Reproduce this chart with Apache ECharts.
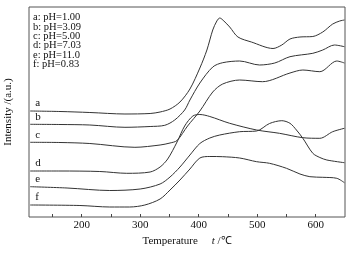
<!DOCTYPE html>
<html>
<head>
<meta charset="utf-8">
<script src="https://cdn.jsdelivr.net/npm/echarts@6/dist/echarts.min.js"></script>
<style>html,body{margin:0;padding:0;background:#fff}#main{width:356px;height:256px}</style>
</head>
<body>
<div id="main"></div>
<script>
// curves: [temperature, intensity (a.u.)]
var curveA = [[112,106],[163,105.5],[214,104.5],[274,103],[317,103.5],[334,105],[351,108],[368,115],[385,128],[402,149],[414,167],[424,187],[431,196],[436,199],[443,196],[453,190],[467,180],[490,175],[527,168.5],[542,172],[556,178],[573,180],[595,180.5],[612,185],[629,193],[641,196],[649,197]];
var curveB = [[112,92.7],[163,92.5],[214,92],[274,89.7],[317,90.5],[342,91.7],[359,97],[376,107],[385,117],[402,134],[424,150],[441,154.3],[470,156],[504,152],[530,154],[556,160.3],[595,163.7],[612,167],[632,172],[649,170.3]];
var curveC = [[112,74.7],[163,74.5],[214,73.5],[291,69.7],[334,72],[351,74],[363,76.5],[381,91],[402,106],[424,125],[441,133],[470,137],[509,135.3],[556,144],[578,147],[607,145.3],[636,156],[649,154]];
var curveD = [[112,46],[163,46],[231,45.5],[277,43.7],[317,45],[334,50],[347,58],[363,75],[376,91],[390,101],[402,102.5],[419,100.5],[453,93.7],[499,87],[538,83.7],[578,79.3],[607,78.7],[629,85.3],[649,88.7]];
var curveE = [[112,30.3],[175,29],[248,26.5],[300,28],[334,33],[351,40],[368,50],[385,62],[402,73.5],[419,79],[436,82],[470,85.3],[499,86],[521,93.5],[542,96.3],[556,93.7],[567,87],[578,78.7],[595,63.7],[607,59.5],[619,57],[649,54.3]];
var curveF = [[112,12],[197,11.5],[248,10],[282,10],[308,12],[334,18],[351,27],[368,37],[385,48],[402,59],[419,60.5],[441,60.3],[470,59],[499,55.3],[521,53.7],[550,48.7],[573,43],[590,40.3],[612,39.7],[636,38.7],[649,34.3]];

var curves = [curveA, curveB, curveC, curveD, curveE, curveF];
var letters = ['a', 'b', 'c', 'd', 'e', 'f'];
var legendLines = ['a: pH=1.00', 'b: pH=3.09', 'c: pH=5.00', 'd: pH=7.03', 'e: pH=11.0', 'f: pH=0.83'];
var tickValues = [150, 200, 250, 300, 350, 400, 450, 500, 550, 600];
var labelValues = [200, 300, 400, 500, 600];

var serif = '"Liberation Serif", "Times New Roman", serif';
var chart = echarts.init(document.getElementById('main'));

var series = [];
for (var i = 0; i < curves.length; i++) {
  series.push({
    type: 'line',
    data: curves[i],
    smooth: 0.3,
    symbol: 'none',
    lineStyle: {color: '#333', width: 1}
  });
}

chart.setOption({
  animation: false,
  grid: {left: 29, right: 11, top: 7, bottom: 39, show: true, borderColor: '#555', borderWidth: 1, outerBoundsMode: 'none'},
  xAxis: {
    type: 'value', min: 110, max: 650,
    axisLine: {show: false},
    splitLine: {show: false},
    axisTick: {show: true, inside: true, length: 3, customValues: tickValues, lineStyle: {color: '#444'}},
    axisLabel: {customValues: labelValues, margin: 3, color: '#111', fontFamily: serif, fontSize: 11},
    name: 'Temperature     {i|t} /℃',
    nameLocation: 'middle',
    nameGap: 11,
    nameTextStyle: {color: '#111', fontFamily: serif, fontSize: 11,
      rich: {i: {fontStyle: 'italic', fontFamily: serif, fontSize: 11, color: '#111'}}}
  },
  yAxis: {
    type: 'value', min: 0, max: 210,
    axisLine: {show: false},
    axisTick: {show: false},
    axisLabel: {show: false},
    splitLine: {show: false},
    name: 'Intensity /(a.u.)',
    nameLocation: 'middle',
    nameGap: 15,
    nameTextStyle: {color: '#111', fontFamily: serif, fontSize: 11}
  },
  series: series
});

// curve letters near the left start of each line, plus the text legend
var graphics = [{
  type: 'text', left: 33, top: 12,
  style: {text: legendLines.join('\n'), font: '10.5px ' + serif, lineHeight: 9.4, fill: '#111'}
}];
for (var j = 0; j < curves.length; j++) {
  var p = chart.convertToPixel({gridIndex: 0}, curves[j][0]);
  graphics.push({
    type: 'text', x: p[0] + 5, y: p[1] - 13,
    style: {text: letters[j], font: '11px ' + serif, fill: '#111'}
  });
}
chart.setOption({graphic: graphics});
</script>
</body>
</html>
